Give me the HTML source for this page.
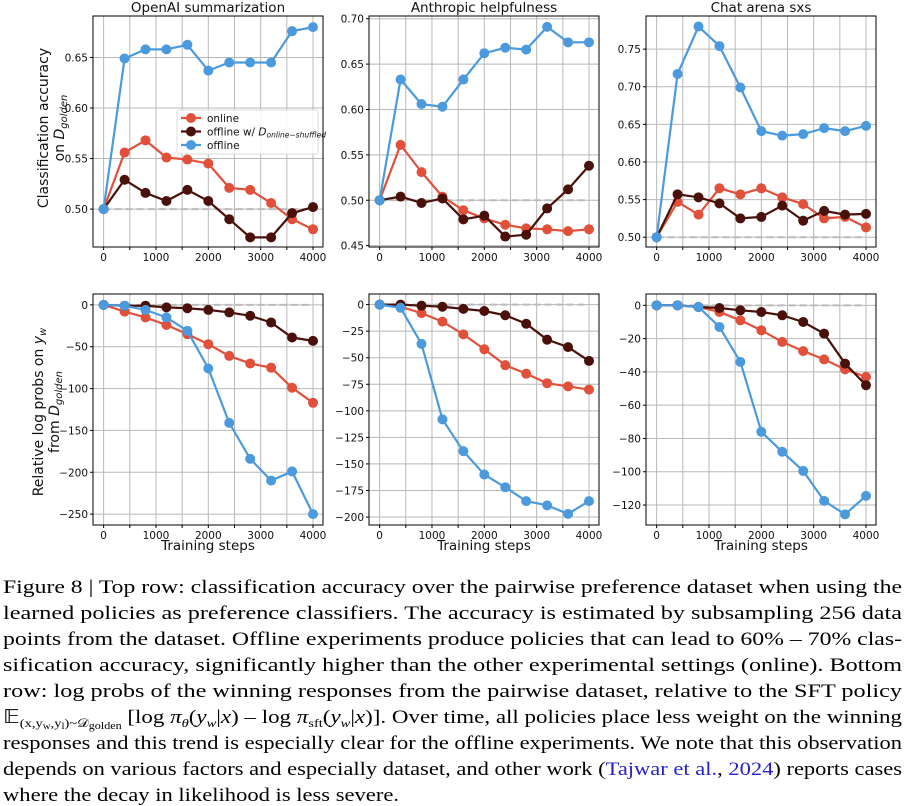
<!DOCTYPE html>
<html><head><meta charset="utf-8"><style>
html,body{margin:0;padding:0;background:#fff;}
svg{display:block;}
</style></head><body>
<svg id="fig" width="904" height="806" viewBox="0 0 904 806" xmlns="http://www.w3.org/2000/svg" font-family="'DejaVu Sans','Liberation Sans',sans-serif">
<g id="charts"></g>
<g id="caption" font-family="'Liberation Serif',serif" font-size="19" fill="#000">
<text x="3" y="593" textLength="899" lengthAdjust="spacingAndGlyphs">Figure 8 | Top row: classification accuracy over the pairwise preference dataset when using the</text>
<text x="3" y="619" textLength="899" lengthAdjust="spacingAndGlyphs">learned policies as preference classifiers.  The accuracy is estimated by subsampling 256 data</text>
<text x="3" y="645" textLength="899" lengthAdjust="spacingAndGlyphs">points from the dataset.  Offline experiments produce policies that can lead to 60% – 70% clas-</text>
<text x="3" y="671" textLength="899" lengthAdjust="spacingAndGlyphs">sification accuracy, significantly higher than the other experimental settings (online).  Bottom</text>
<text x="3" y="697" textLength="899" lengthAdjust="spacingAndGlyphs">row:  log probs of the winning responses from the pairwise dataset, relative to the SFT policy</text>
<text x="3" y="723" textLength="899" lengthAdjust="spacingAndGlyphs">𝔼<tspan font-size="12" dy="4">(x,y</tspan><tspan font-size="9" dy="2">w</tspan><tspan font-size="12" dy="-2">,y</tspan><tspan font-size="9" dy="2">l</tspan><tspan font-size="12" dy="-2">)~𝒟</tspan><tspan font-size="10" dy="2">golden</tspan><tspan dy="-6"> [log </tspan><tspan font-style="italic">π</tspan><tspan font-size="12" dy="4" font-style="italic">θ</tspan><tspan dy="-4">(</tspan><tspan font-style="italic">y</tspan><tspan font-size="12" dy="4" font-style="italic">w</tspan><tspan dy="-4">|</tspan><tspan font-style="italic">x</tspan><tspan>) – log </tspan><tspan font-style="italic">π</tspan><tspan font-size="12" dy="4">sft</tspan><tspan dy="-4">(</tspan><tspan font-style="italic">y</tspan><tspan font-size="12" dy="4" font-style="italic">w</tspan><tspan dy="-4">|</tspan><tspan font-style="italic">x</tspan><tspan>)]. Over time, all policies place less weight on the winning</tspan></text>
<text x="3" y="749" textLength="899" lengthAdjust="spacingAndGlyphs">responses and this trend is especially clear for the offline experiments. We note that this observation</text>
<text x="3" y="775" textLength="899" lengthAdjust="spacingAndGlyphs">depends on various factors and especially dataset, and other work (<tspan fill="#2222cc">Tajwar et al.</tspan>, <tspan fill="#2222cc">2024</tspan>) reports cases</text>
<text x="3" y="801" textLength="396" lengthAdjust="spacingAndGlyphs">where the decay in likelihood is less severe.</text>
</g>
</svg>
<script>
const steps = [0,400,800,1200,1600,2000,2400,2800,3200,3600,4000];
// Top row: classification accuracy
const accOpenaiOnline   = [0.500,0.556,0.568,0.551,0.549,0.545,0.521,0.519,0.506,0.490,0.480];
const accOpenaiShuffled = [0.500,0.529,0.516,0.508,0.519,0.508,0.490,0.472,0.472,0.496,0.502];
const accOpenaiOffline  = [0.500,0.649,0.658,0.658,0.6625,0.637,0.645,0.645,0.645,0.676,0.680];
const accAnthOnline     = [0.500,0.561,0.531,0.504,0.489,0.480,0.473,0.469,0.468,0.466,0.468];
const accAnthShuffled   = [0.500,0.504,0.497,0.502,0.479,0.483,0.460,0.462,0.491,0.512,0.538];
const accAnthOffline    = [0.500,0.633,0.606,0.603,0.633,0.662,0.668,0.666,0.691,0.674,0.674];
const accChatOnline     = [0.500,0.547,0.530,0.565,0.557,0.565,0.553,0.544,0.525,0.527,0.513];
const accChatShuffled   = [0.500,0.557,0.553,0.545,0.525,0.527,0.542,0.522,0.535,0.530,0.531];
const accChatOffline    = [0.500,0.717,0.780,0.754,0.699,0.641,0.635,0.637,0.645,0.641,0.648];
// Bottom row: relative log probs
const lpOpenaiOnline    = [0,-8,-15,-24,-35,-47,-61,-70,-75,-99,-117];
const lpOpenaiShuffled  = [0,-1,-1,-3,-4,-6,-9,-13,-21,-39,-43];
const lpOpenaiOffline   = [0,-1,-6,-15,-31,-76,-141,-184,-210,-199,-250];
const lpAnthOnline      = [0,-2,-8,-16,-28,-42,-57,-65,-74,-77,-80];
const lpAnthShuffled    = [0,0,-1,-2,-4,-6,-10,-18,-33,-40,-53];
const lpAnthOffline     = [0,-3,-37,-108,-138,-160,-172,-185,-189,-197,-185];
const lpChatOnline      = [0,0,-1,-4,-9,-15,-22,-27.5,-32.5,-38.5,-43];
const lpChatShuffled    = [0,0,-1,-1.6,-3,-4,-6,-10,-17,-35,-48];
const lpChatOffline     = [0,0,-1,-13,-34,-76,-88,-99.5,-117.5,-125.6,-114.5];
// Ticks
const xTicks = [0,1000,2000,3000,4000];
const xMinor = [0,500,1000,1500,2000,2500,3000,3500,4000];
const yTicksOpenaiAcc = [0.50,0.55,0.60,0.65];
const yTicksAnthAcc = [0.45,0.50,0.55,0.60,0.65,0.70];
const yTicksChatAcc = [0.50,0.55,0.60,0.65,0.70,0.75];
const yTicksOpenaiLp = [0,-50,-100,-150,-200,-250];
const yTicksAnthLp = [0,-25,-50,-75,-100,-125,-150,-175,-200];
const yTicksChatLp = [0,-20,-40,-60,-80,-100,-120];
const seriesNames = ['online','offline-shuffled','offline'];

const COLORS = {'online':'#e0503a','offline-shuffled':'#4a100a','offline':'#4c9ade'};
const NS = 'http://www.w3.org/2000/svg';
const root = document.getElementById('charts');
function mk(tag, attrs, parent){const e=document.createElementNS(NS,tag);for(const k in attrs)e.setAttribute(k,attrs[k]);(parent||root).appendChild(e);return e;}

const panels = [
 {id:'openai-acc', left:93, top:16, bottom:247, ylim:[0.4625,0.691], yt:yTicksOpenaiAcc, dec:2, data:[accOpenaiOnline,accOpenaiShuffled,accOpenaiOffline], base:0.5, title:'OpenAI summarization'},
 {id:'anthropic-acc', left:369, top:16, bottom:247, ylim:[0.4485,0.703], yt:yTicksAnthAcc, dec:2, data:[accAnthOnline,accAnthShuffled,accAnthOffline], base:0.5, title:'Anthropic helpfulness'},
 {id:'chat-acc', left:646, top:16, bottom:247, ylim:[0.487,0.794], yt:yTicksChatAcc, dec:2, data:[accChatOnline,accChatShuffled,accChatOffline], base:0.5, title:'Chat arena sxs'},
 {id:'openai-logprob', left:93, top:294, bottom:525, ylim:[-263,13], yt:yTicksOpenaiLp, dec:0, data:[lpOpenaiOnline,lpOpenaiShuffled,lpOpenaiOffline], base:0, xlabel:true},
 {id:'anthropic-logprob', left:369, top:294, bottom:525, ylim:[-207.5,10], yt:yTicksAnthLp, dec:0, data:[lpAnthOnline,lpAnthShuffled,lpAnthOffline], base:0, xlabel:true},
 {id:'chat-logprob', left:646, top:294, bottom:525, ylim:[-132,6.8], yt:yTicksChatLp, dec:0, data:[lpChatOnline,lpChatShuffled,lpChatOffline], base:0, xlabel:true},
];
const W = 230, XLIM = [-203,4191];

panels.forEach(p=>{
  const g = mk('g',{});
  
  
  const xs = v => p.left + (v-XLIM[0])/(XLIM[1]-XLIM[0])*W;
  const ys = v => p.bottom - (v-p.ylim[0])/(p.ylim[1]-p.ylim[0])*(p.bottom-p.top);
  const grid = mk('g',{stroke:'#b8b8b8','stroke-width':1},g);
  
  
  xMinor.forEach(v=>mk('line',{x1:xs(v),x2:xs(v),y1:p.top,y2:p.bottom},grid));
  p.yt.forEach(v=>mk('line',{x1:p.left,x2:p.left+W,y1:ys(v),y2:ys(v)},grid));
  const dl = mk('line',{x1:xs(0),x2:xs(4000),y1:ys(p.base),y2:ys(p.base),stroke:'#bbbbbb','stroke-width':2,'stroke-dasharray':'7,4'},g);
  
  
  // ticks
  const tg = mk('g',{'font-size':10.5,fill:'#111'},g);
  
  
  xMinor.forEach(v=>mk('line',{x1:xs(v),x2:xs(v),y1:p.bottom,y2:p.bottom+3,stroke:'#000'},tg));
  xTicks.forEach(v=>{const t=mk('text',{x:xs(v),y:p.bottom+14,'text-anchor':'middle'},tg);t.textContent=String(v);});
  const yg = mk('g',{'font-size':10.5,fill:'#111'},g);
  
  
  p.yt.forEach(v=>{mk('line',{x1:p.left-3,x2:p.left,y1:ys(v),y2:ys(v),stroke:'#000'},yg);
    const t=mk('text',{x:p.left-5,y:ys(v)+4,'text-anchor':'end'},yg);
    t.textContent = (v<0?'−':'')+Math.abs(v).toFixed(p.dec);});
  // series
  p.data.forEach((arr,si)=>{
    const sg = mk('g',{},g);
    
    
    const pts = arr.map((v,i)=>xs(steps[i])+','+ys(v)).join(' ');
    mk('polyline',{points:pts,fill:'none',stroke:COLORS[seriesNames[si]],'stroke-width':2.2},sg);
    arr.forEach((v,i)=>{
      const c=mk('circle',{cx:xs(steps[i]),cy:ys(v),r:5,fill:COLORS[seriesNames[si]]},sg);
      
      
    });
  });
  const fr = mk('rect',{x:p.left,y:p.top,width:W,height:p.bottom-p.top,fill:'none',stroke:'#000','stroke-width':1},g);
  
  
  if(p.title){const t=mk('text',{x:p.left+W/2,y:12,'text-anchor':'middle','font-size':13.5,fill:'#111'},g);
    
    
    t.textContent=p.title;}
  if(p.xlabel){const t=mk('text',{x:p.left+W/2,y:550,'text-anchor':'middle','font-size':13.5,fill:'#111'},g);
    
    
    t.textContent='Training steps';}
});

// y-axis titles
const yt1 = mk('g',{'font-size':14,fill:'#111'});


yt1.innerHTML = '<text transform="translate(48,128) rotate(-90)" text-anchor="middle">Classification accuracy</text><text transform="translate(64,128) rotate(-90)" text-anchor="middle">on <tspan font-style="italic">D</tspan><tspan font-size="10" font-style="italic" dy="3">golden</tspan></text>';
const yt2 = mk('g',{'font-size':14,fill:'#111'});


yt2.innerHTML = '<text transform="translate(43,412) rotate(-90)" text-anchor="middle">Relative log probs on <tspan font-style="italic">y</tspan><tspan font-size="10" font-style="italic" dy="3">w</tspan></text><text transform="translate(59,412) rotate(-90)" text-anchor="middle">from <tspan font-style="italic">D</tspan><tspan font-size="10" font-style="italic" dy="3">golden</tspan></text>';

// legend
const lg = mk('g',{});


mk('rect',{x:177,y:110,width:141,height:44,fill:'#fff','fill-opacity':0.85,stroke:'#ddd',rx:2},lg);
const legendLabels = ['online','offline w/ ','offline'];
seriesNames.forEach((s,i)=>{
  const y = 118+i*13.5;
  const e = mk('g',{},lg);
  
  
  mk('line',{x1:181,x2:201,y1:y,y2:y,stroke:COLORS[s],'stroke-width':2.2},e);
  mk('circle',{cx:191,cy:y,r:5,fill:COLORS[s]},e);
  const t = mk('text',{x:207,y:y+4,'font-size':10.5,fill:'#111'},e);
  t.textContent = legendLabels[i];
  if(i===1){const a=mk('tspan',{'font-style':'italic'},t);a.textContent='D';
    const b=mk('tspan',{'font-style':'italic','font-size':7.5,dy:2});b.textContent='online−shuffled';t.appendChild(b);}
});
</script>
</body></html>
